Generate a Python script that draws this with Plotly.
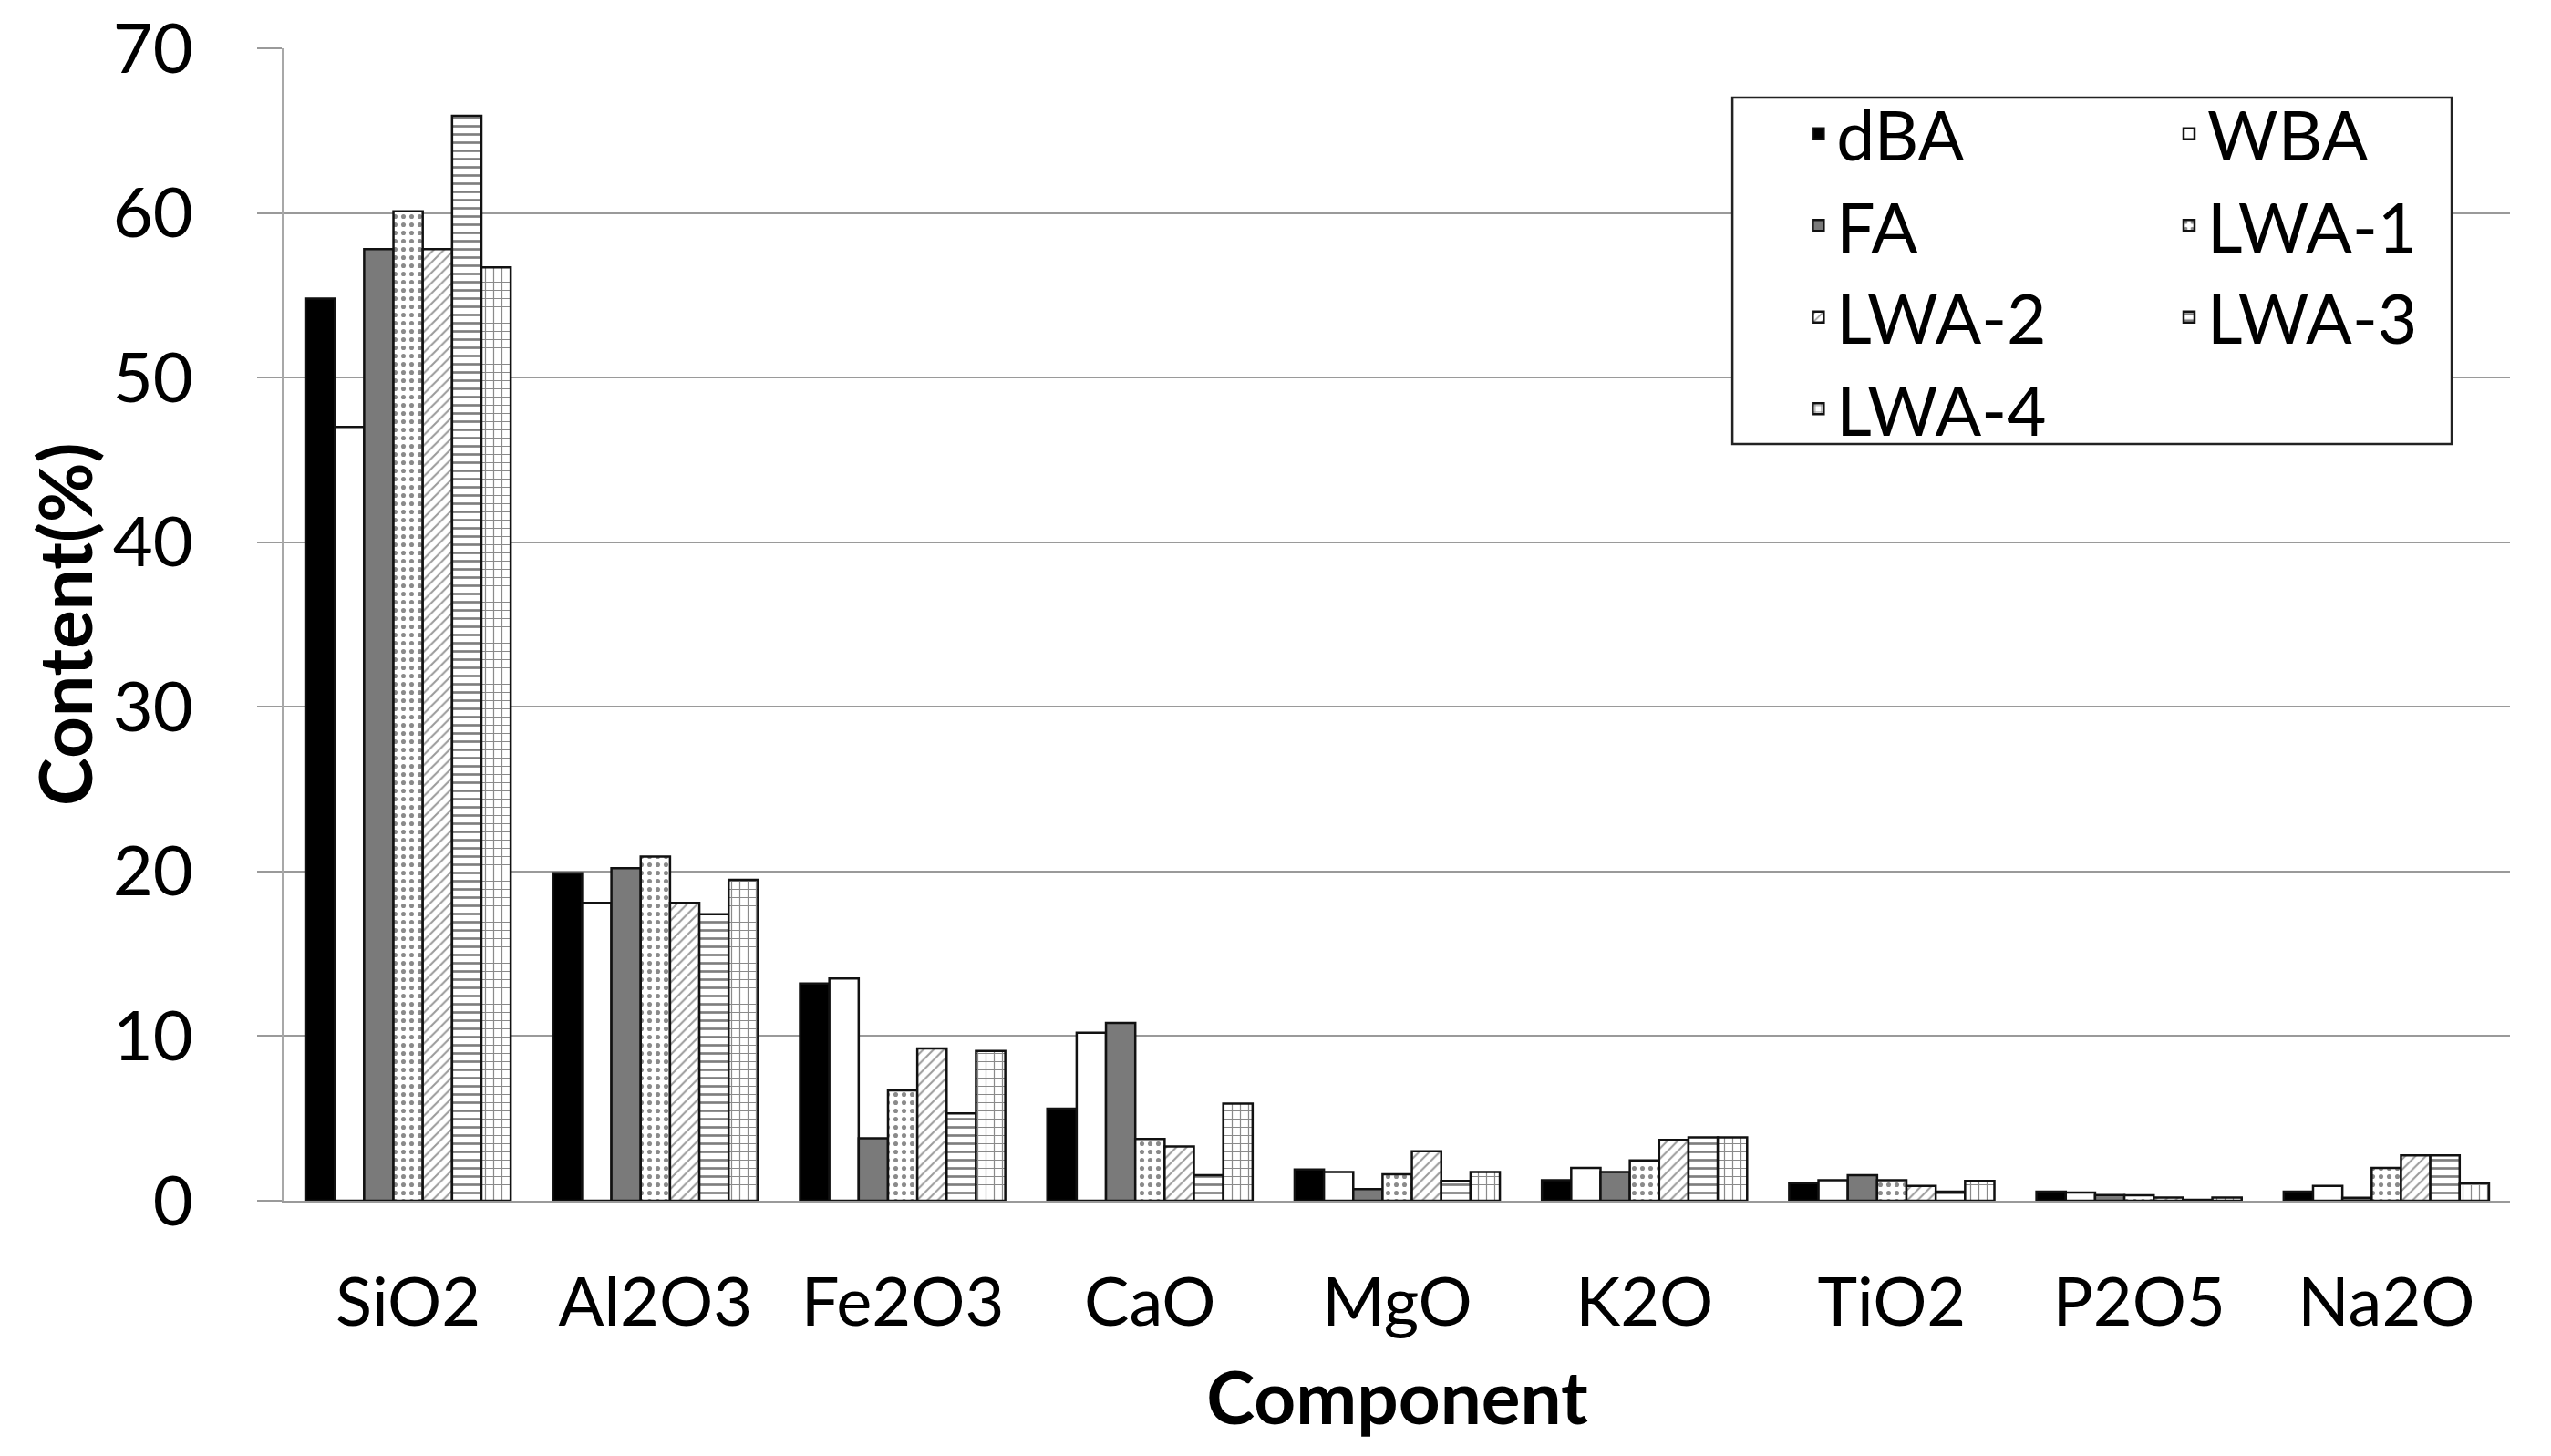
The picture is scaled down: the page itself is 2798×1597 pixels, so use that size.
import plotly.graph_objects as go

categories = ["SiO2", "Al2O3", "Fe2O3", "CaO", "MgO", "K2O", "TiO2", "P2O5", "Na2O"]

dBA   = [54.8, 19.9, 13.2, 5.6, 1.9, 1.25, 1.07, 0.55, 0.55]
WBA   = [47.0, 18.1, 13.5, 10.2, 1.75, 2.0, 1.25, 0.5, 0.9]
FA    = [57.8, 20.2, 3.8, 10.8, 0.7, 1.75, 1.55, 0.35, 0.18]
LWA_1 = [60.1, 20.9, 6.7, 3.75, 1.6, 2.45, 1.25, 0.33, 2.0]
LWA_2 = [57.8, 18.1, 9.25, 3.3, 3.0, 3.7, 0.9, 0.2, 2.75]
LWA_3 = [65.9, 17.4, 5.3, 1.55, 1.2, 3.85, 0.55, 0.05, 2.75]
LWA_4 = [56.7, 19.5, 9.1, 5.9, 1.75, 3.85, 1.2, 0.2, 1.07]

# (name, values, marker style, legend column)
series = [
    ("dBA", dBA, dict(color="#000000"), "legend"),
    ("WBA", WBA, dict(color="#ffffff"), "legend2"),
    ("FA", FA, dict(color="#7a7a7a"), "legend"),
    ("LWA-1", LWA_1, dict(color="#ffffff", pattern=dict(shape=".", fgcolor="#8a8a8a", bgcolor="#ffffff", size=9, solidity=0.25)), "legend2"),
    ("LWA-2", LWA_2, dict(color="#ffffff", pattern=dict(shape="/", fgcolor="#9a9a9a", bgcolor="#ffffff", size=8, solidity=0.25)), "legend"),
    ("LWA-3", LWA_3, dict(color="#ffffff", pattern=dict(shape="-", fgcolor="#7f7f7f", bgcolor="#ffffff", size=9, solidity=0.3)), "legend2"),
    ("LWA-4", LWA_4, dict(color="#ffffff", pattern=dict(shape="+", fgcolor="#8a8a8a", bgcolor="#ffffff", size=9, solidity=0.25)), "legend"),
]

FONT = "Lato"

fig = go.Figure()
for name, vals, m, lg in series:
    marker = dict(m)
    marker["line"] = dict(color="#111111", width=2.5)
    fig.add_trace(go.Bar(name=name, x=categories, y=vals, marker=marker, legend=lg))

legend_common = dict(
    orientation="v", xanchor="left", yanchor="top",
    borderwidth=0, bgcolor="rgba(0,0,0,0)",
    font=dict(family=FONT, size=75, color="#000000"),
    tracegroupgap=0,
)

fig.update_layout(
    template="none",
    width=2798, height=1597,
    margin=dict(l=312, r=45, t=53, b=280),
    paper_bgcolor="white", plot_bgcolor="white",
    barmode="group", bargap=0.17, bargroupgap=0,
    font=dict(family=FONT, size=74, color="#000000"),
    legend=dict(legend_common, x=0.681, y=0.9695),
    legend2=dict(legend_common, x=0.8476, y=0.9695),
    showlegend=True,
    shapes=[dict(
        type="rect", xref="paper", yref="paper", layer="above",
        x0=0.6506, x1=0.9738, y0=0.6566, y1=0.9573,
        line=dict(color="#222222", width=2.5), fillcolor="white",
    )],
    annotations=[dict(
        text="<b>Content(%)</b>", textangle=-90, showarrow=False,
        xref="paper", yref="paper", x=-0.0991, y=0.5,
        xanchor="center", yanchor="middle",
        font=dict(family=FONT, size=80, color="#000000"),
    )],
)

fig.update_yaxes(
    range=[0, 70], dtick=10, showgrid=True, gridcolor="#9a9a9a", gridwidth=2,
    showline=True, linecolor="#a8a8a8", linewidth=3,
    ticks="outside", ticklen=27, tickcolor="#9a9a9a", tickwidth=2,
    ticklabelstandoff=55, ticklabeloverflow="allow", zeroline=False, automargin=False,
    tickfont=dict(family=FONT, size=76),
)
fig.update_xaxes(
    showline=True, linecolor="#9a9a9a", linewidth=3, ticks="",
    ticklabelstandoff=45, ticklabeloverflow="allow", automargin=False, showgrid=False,
    tickfont=dict(family=FONT, size=74),
    title=dict(text="<b>Component</b>", font=dict(family=FONT, size=80), standoff=38),
)

fig.write_html("out.html", config={"displayModeBar": False},
               post_script="document.body.style.margin='0';")
